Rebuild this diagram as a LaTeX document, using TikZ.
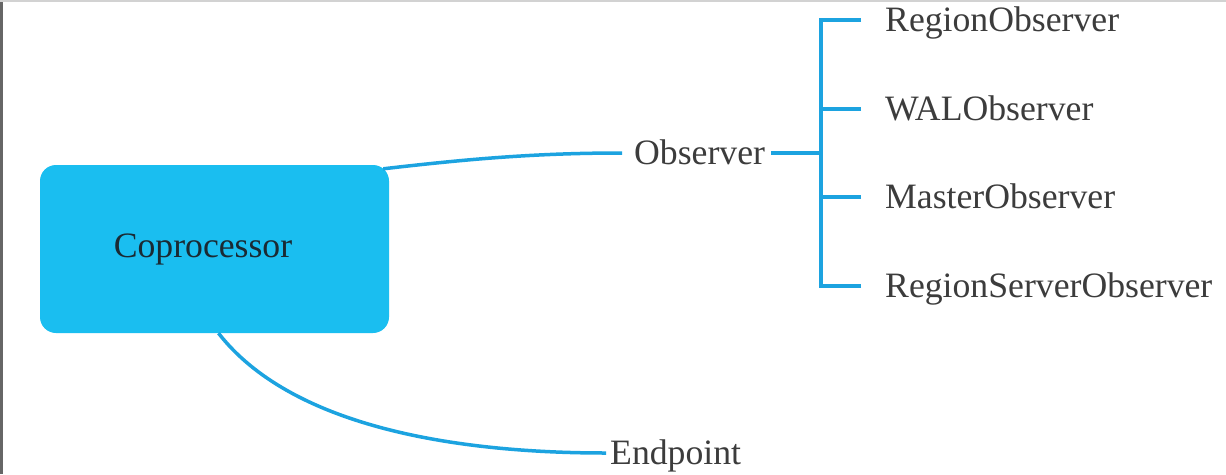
\documentclass[tikz,border=0pt]{standalone}
\usepackage{fontspec}
\setmainfont{Liberation Serif}
\definecolor{boxfill}{HTML}{1ABEF0}
\definecolor{linec}{HTML}{1CA3E0}
\definecolor{txt}{HTML}{3C3C3C}
\definecolor{boxtxt}{HTML}{1A2A33}
\tikzset{
  conn/.style={draw=linec, line width=3.5pt},
  lbl/.style={inner sep=0pt, text height=23.6pt, text depth=0pt, text=txt, font=\fontsize{35.7pt}{40pt}\selectfont, anchor=west},
  corebox/.style={fill=boxfill, draw=none, rounded corners=16pt, minimum width=349pt, minimum height=168pt, inner sep=0pt, text height=23.6pt, text depth=7pt, text=boxtxt, font=\fontsize{35.7pt}{40pt}\selectfont}
}
\begin{document}
\begin{tikzpicture}[x=1pt,y=-1pt]
\useasboundingbox (0,0) rectangle (1226,474);
\fill[white] (0,0) rectangle (1226,474);
\draw[gray!80!black, line width=3pt] (1.5,0) -- (1.5,474);
\draw[gray!35, line width=2pt] (0,1) -- (1226,1);
% nodes
\node[corebox] (box) at (214.5,249) {Coprocessor\hspace*{23pt}};
\node[lbl] (obs) at (634,153) {Observer};
\node[lbl] (ep) at (610,453) {Endpoint};
\node[lbl] (r1) at (885,20) {RegionObserver};
\node[lbl] (r2) at (885,109) {WALObserver};
\node[lbl] (r3) at (885,197) {MasterObserver};
\node[lbl] (r4) at (885,286) {RegionServerObserver};
\coordinate (t) at (821,153);
% connectors
\draw[conn] ([xshift=-6pt,yshift=-4pt]box.north east) .. controls (460,160) and (530,153) .. ([xshift=-12pt]obs.west);
\draw[conn] ([xshift=4pt]box.south) .. controls (290,425) and (450,453) .. ([xshift=-4pt]ep.west);
\draw[conn] ([xshift=6pt]obs.east) -- (t);
\draw[conn] ([xshift=-24pt]r1.west) -| (t);
\draw[conn] ([xshift=-24pt]r2.west) -| (t);
\draw[conn] ([xshift=-24pt]r3.west) -| (t);
\draw[conn] ([xshift=-24pt]r4.west) -| (t);
\end{tikzpicture}
\end{document}
